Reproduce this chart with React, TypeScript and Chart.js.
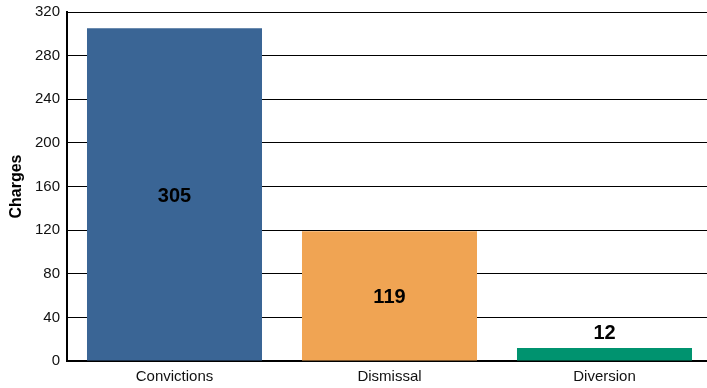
import React, { useEffect, useRef } from "react";
import { Chart, registerables } from "chart.js";

Chart.register(...registerables);

const categories = ["Convictions", "Dismissal", "Diversion"];
const values = [305, 119, 12];
const barColors = ["#3a6595", "#f0a453", "#00936f"];
const yMin = 0;
const yMax = 320;
const yStep = 40;
const yTitle = "Charges";

const FONT = "'Liberation Sans', Arial, sans-serif";

const labelPlugin = {
  id: "barLabels",
  afterDatasetsDraw(chart: any) {
    const ctx = chart.ctx;
    const meta = chart.getDatasetMeta(0);
    ctx.save();
    ctx.font = `bold 20px ${FONT}`;
    ctx.fillStyle = "#000";
    ctx.textAlign = "center";
    ctx.textBaseline = "middle";
    meta.data.forEach((bar: any, i: number) => {
      const h = bar.base - bar.y;
      const y = h > 40 ? (bar.y + bar.base) / 2 + 2 : bar.y - 14;
      ctx.fillText(String(values[i]), bar.x, y);
    });
    ctx.restore();
  },
};

export default function App() {
  const ref = useRef<HTMLCanvasElement>(null);
  useEffect(() => {
    document.body.style.margin = "0";
    const chart = new Chart(ref.current!, {
      type: "bar",
      data: {
        labels: categories,
        datasets: [
          {
            data: values,
            backgroundColor: barColors,
            categoryPercentage: 1,
            barPercentage: 0.814,
          },
        ],
      },
      options: {
        responsive: false,
        animation: false,
        layout: { padding: { top: 12, right: 0, left: 0, bottom: 0 } },
        plugins: { legend: { display: false }, tooltip: { enabled: false } },
        scales: {
          x: {
            grid: { display: false, drawTicks: false },
            border: { display: true, color: "#000", width: 2 },
            ticks: { color: "#111", font: { family: FONT, size: 15 }, padding: 7 },
            afterFit: (s: any) => {
              s.height = 27;
              s.paddingLeft = 0;
              s.paddingRight = 0;
            },
          },
          y: {
            min: yMin,
            max: yMax,
            ticks: {
              stepSize: yStep,
              color: "#111",
              font: { family: FONT, size: 15 },
              padding: 7,
            },
            grid: { color: "#000", lineWidth: 1, drawTicks: false },
            border: { display: true, color: "#000", width: 2 },
            title: {
              display: true,
              text: yTitle,
              color: "#000",
              font: { family: FONT, size: 16, weight: "bold" },
              padding: { top: 7, bottom: 0 },
            },
            afterFit: (s: any) => {
              s.width = 67;
              s.paddingTop = 0;
              s.paddingBottom = 0;
            },
          },
        },
      },
      plugins: [labelPlugin],
    });
    return () => chart.destroy();
  }, []);
  return (
    <div style={{ width: 707, height: 388, overflow: "hidden" }}>
      <canvas ref={ref} width={712} height={388} style={{ display: "block" }} />
    </div>
  );
}
